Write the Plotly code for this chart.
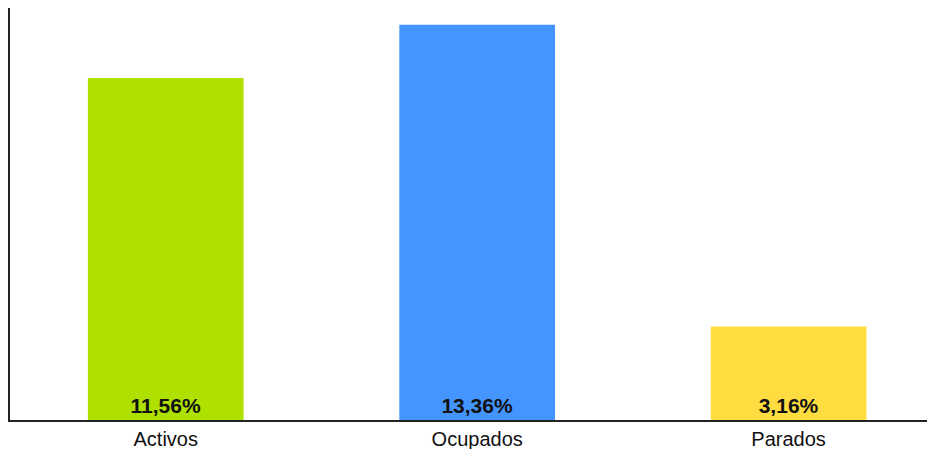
import plotly.graph_objects as go

categories = ["Activos", "Ocupados", "Parados"]
values = [11.56, 13.36, 3.16]
labels = ["11,56%", "13,36%", "3,16%"]
colors = ["#AEE000", "#4495FF", "#FFDC40"]

fig = go.Figure(go.Bar(
    x=categories, y=values, text=labels,
    marker=dict(color=colors, line=dict(width=0)),
    width=0.5,
    textposition="inside", insidetextanchor="start",
    textangle=0,
    textfont=dict(family="Liberation Sans, Arial", size=21, color="#111", weight="bold"),
    constraintext="none",
    hoverinfo="skip",
))

fig.update_layout(
    width=935, height=441,
    margin=dict(l=2, r=8, t=0, b=29),
    plot_bgcolor="white", paper_bgcolor="white",
    showlegend=False,
    font=dict(family="Liberation Sans, Arial", size=20, color="black"),
    uniformtext=dict(mode=False),
)
fig.update_xaxes(
    type="category", range=[-0.5, 2.47],
    showline=True, linecolor="#222", linewidth=2,
    ticks="", showgrid=False, zeroline=False,
    tickfont=dict(size=20, color="#111"),
)
fig.update_yaxes(
    range=[0, 13.93],
    showline=True, linecolor="#222", linewidth=2,
    showticklabels=False, ticks="", showgrid=False, zeroline=False,
)

fig.write_html("out.html")
